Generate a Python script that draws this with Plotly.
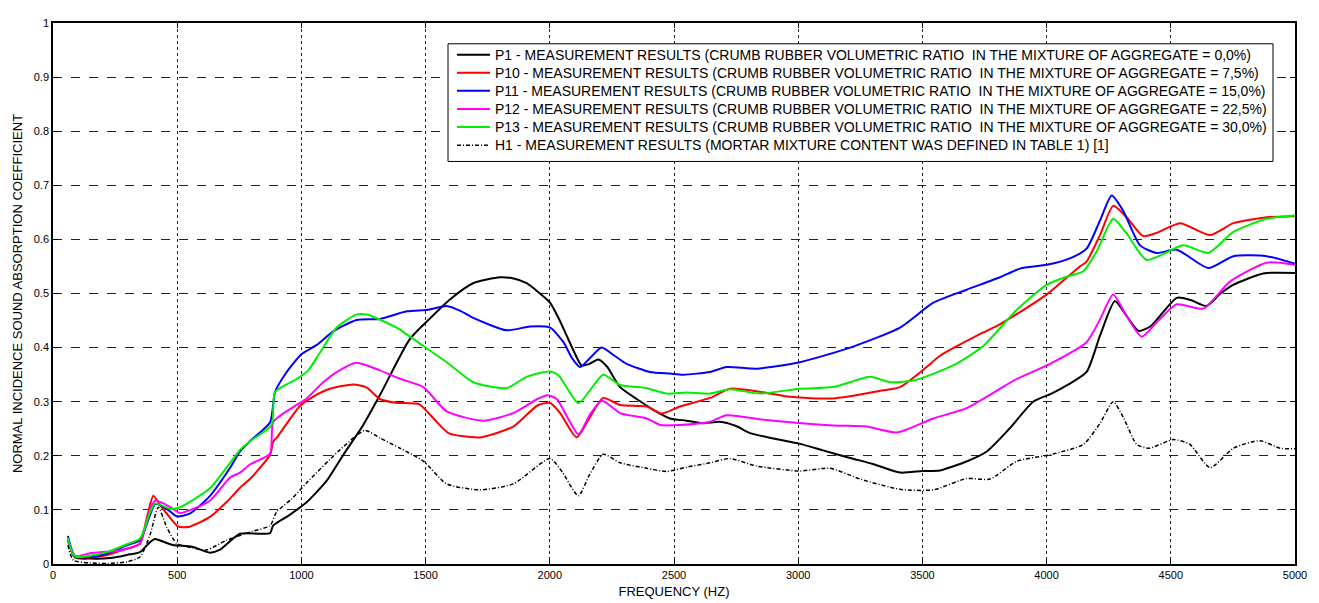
import plotly.graph_objects as go

# ---------------- data ----------------
freq_p1 = [60, 88, 150, 230, 300, 350, 390, 411, 440, 483, 560, 632, 670, 720, 753, 874, 886, 950, 1021, 1102,
           1169, 1249, 1316, 1437, 1520, 1598, 1691, 1800, 1850, 1907, 1960, 2001, 2040, 2068, 2100, 2128, 2160,
           2195, 2230, 2283, 2350, 2417, 2484, 2550, 2618, 2685, 2750, 2806, 2900, 3007, 3100, 3209, 3300, 3410,
           3500, 3571, 3680, 3759, 3850, 3946, 4020, 4081, 4161, 4215, 4275, 4320, 4370, 4420, 4524, 4580, 4644,
           4700, 4751, 4872, 5000]
val_p1 = [0.044, 0.012, 0.010, 0.011, 0.017, 0.022, 0.040, 0.046, 0.042, 0.035, 0.032, 0.021, 0.026, 0.045, 0.056,
          0.057, 0.071, 0.090, 0.114, 0.154, 0.202, 0.257, 0.312, 0.416, 0.455, 0.489, 0.519, 0.530, 0.528, 0.519,
          0.500, 0.483, 0.450, 0.422, 0.390, 0.367, 0.370, 0.378, 0.365, 0.327, 0.305, 0.285, 0.269, 0.265, 0.260,
          0.263, 0.255, 0.242, 0.232, 0.222, 0.210, 0.196, 0.185, 0.169, 0.172, 0.173, 0.190, 0.208, 0.250, 0.300,
          0.315, 0.330, 0.355, 0.422, 0.486, 0.460, 0.431, 0.440, 0.492, 0.488, 0.477, 0.500, 0.516, 0.537, 0.538]

freq_p10 = [60, 88, 150, 216, 280, 323, 350, 380, 404, 430, 458, 505, 550, 632, 700, 753, 793, 874, 887, 900, 994,
            1050, 1115, 1209, 1263, 1316, 1380, 1475, 1530, 1592, 1719, 1853, 1950, 2000, 2040, 2108, 2160, 2215,
            2283, 2390, 2450, 2524, 2645, 2725, 2850, 2967, 3141, 3342, 3410, 3517, 3571, 3745, 3812, 4000, 4134,
            4161, 4215, 4268, 4322, 4389, 4443, 4537, 4658, 4752, 4886, 5000]
val_p10 = [0.045, 0.014, 0.012, 0.016, 0.026, 0.032, 0.037, 0.090, 0.126, 0.110, 0.093, 0.069, 0.069, 0.087, 0.115,
           0.141, 0.157, 0.202, 0.227, 0.233, 0.292, 0.310, 0.324, 0.332, 0.326, 0.305, 0.298, 0.295, 0.270, 0.242,
           0.234, 0.254, 0.293, 0.298, 0.280, 0.234, 0.270, 0.307, 0.294, 0.291, 0.278, 0.291, 0.307, 0.324, 0.318,
           0.309, 0.306, 0.321, 0.327, 0.364, 0.385, 0.428, 0.443, 0.498, 0.550, 0.559, 0.608, 0.662, 0.641, 0.606,
           0.612, 0.630, 0.608, 0.630, 0.641, 0.643]

freq_p11 = [60, 88, 150, 216, 300, 350, 390, 411, 458, 498, 550, 632, 713, 753, 793, 874, 894, 941, 1001, 1062, 1128,
            1222, 1316, 1424, 1510, 1585, 1640, 1692, 1826, 1920, 2001, 2055, 2090, 2122, 2160, 2209, 2260, 2309,
            2403, 2484, 2537, 2645, 2712, 2833, 3007, 3209, 3410, 3544, 3678, 3812, 3893, 4000, 4094, 4161, 4215,
            4262, 4308, 4376, 4443, 4524, 4651, 4752, 4886, 5000]
val_p11 = [0.052, 0.015, 0.013, 0.019, 0.035, 0.044, 0.090, 0.111, 0.102, 0.088, 0.093, 0.126, 0.178, 0.208, 0.227,
           0.262, 0.318, 0.355, 0.388, 0.405, 0.430, 0.451, 0.453, 0.467, 0.470, 0.477, 0.468, 0.455, 0.432, 0.439,
           0.437, 0.410, 0.380, 0.364, 0.380, 0.400, 0.385, 0.370, 0.355, 0.352, 0.350, 0.355, 0.364, 0.361, 0.373,
           0.400, 0.437, 0.483, 0.507, 0.530, 0.546, 0.553, 0.565, 0.583, 0.635, 0.681, 0.653, 0.589, 0.575, 0.581,
           0.547, 0.569, 0.569, 0.555]

freq_p12 = [60, 88, 149, 283, 350, 390, 411, 440, 484, 511, 632, 713, 753, 793, 874, 887, 981, 1021, 1088, 1150, 1222,
            1316, 1400, 1491, 1585, 1732, 1853, 1950, 1990, 2028, 2115, 2160, 2209, 2283, 2390, 2444, 2524, 2645,
            2712, 2873, 3141, 3276, 3397, 3544, 3678, 3880, 4014, 4161, 4215, 4268, 4320, 4383, 4450, 4524, 4631,
            4738, 4886, 5000]
val_p12 = [0.044, 0.014, 0.020, 0.026, 0.038, 0.100, 0.117, 0.113, 0.102, 0.094, 0.117, 0.160, 0.169, 0.184, 0.204,
           0.263, 0.294, 0.306, 0.336, 0.357, 0.372, 0.358, 0.342, 0.327, 0.282, 0.265, 0.279, 0.305, 0.312, 0.305,
           0.240, 0.275, 0.302, 0.279, 0.269, 0.257, 0.257, 0.263, 0.275, 0.266, 0.256, 0.254, 0.243, 0.269, 0.288,
           0.342, 0.370, 0.410, 0.452, 0.498, 0.460, 0.420, 0.450, 0.480, 0.472, 0.522, 0.557, 0.553]

freq_p13 = [60, 88, 216, 300, 350, 390, 411, 440, 471, 511, 632, 713, 753, 793, 880, 894, 981, 1028, 1075, 1142, 1222,
            1263, 1383, 1491, 1585, 1692, 1826, 1907, 2001, 2035, 2115, 2160, 2215, 2283, 2390, 2470, 2551, 2645,
            2725, 2846, 3007, 3141, 3289, 3370, 3463, 3624, 3745, 3880, 4000, 4081, 4148, 4202, 4268, 4322, 4403,
            4550, 4651, 4752, 4886, 5000]
val_p13 = [0.048, 0.014, 0.022, 0.037, 0.047, 0.095, 0.112, 0.108, 0.102, 0.105, 0.140, 0.187, 0.211, 0.227, 0.257,
           0.318, 0.342, 0.358, 0.391, 0.437, 0.461, 0.461, 0.437, 0.403, 0.373, 0.336, 0.325, 0.346, 0.356, 0.349,
           0.297, 0.320, 0.350, 0.331, 0.325, 0.315, 0.317, 0.315, 0.323, 0.315, 0.324, 0.327, 0.346, 0.336, 0.339,
           0.367, 0.403, 0.470, 0.516, 0.531, 0.541, 0.578, 0.638, 0.611, 0.562, 0.589, 0.575, 0.614, 0.638, 0.644]

freq_h1 = [60, 82, 150, 216, 297, 350, 390, 424, 458, 498, 560, 619, 699, 800, 874, 900, 960, 1021, 1155, 1256, 1316,
           1397, 1491, 1585, 1719, 1853, 2001, 2050, 2115, 2160, 2215, 2283, 2390, 2470, 2551, 2645, 2725, 2833,
           3007, 3128, 3249, 3410, 3544, 3678, 3772, 3880, 4014, 4148, 4215, 4268, 4310, 4363, 4414, 4510, 4577,
           4658, 4752, 4859, 4940, 5000]
val_h1 = [0.035, 0.007, 0.002, 0.001, 0.004, 0.013, 0.053, 0.105, 0.068, 0.038, 0.030, 0.026, 0.044, 0.060, 0.071,
          0.096, 0.120, 0.150, 0.211, 0.247, 0.233, 0.214, 0.190, 0.148, 0.137, 0.148, 0.195, 0.170, 0.126, 0.165,
          0.203, 0.187, 0.177, 0.171, 0.179, 0.187, 0.195, 0.181, 0.172, 0.177, 0.157, 0.138, 0.137, 0.158, 0.157,
          0.190, 0.202, 0.221, 0.260, 0.300, 0.270, 0.221, 0.214, 0.230, 0.221, 0.178, 0.214, 0.228, 0.214, 0.213]

names = [
    "P1 - MEASUREMENT RESULTS (CRUMB RUBBER VOLUMETRIC RATIO  IN THE MIXTURE OF AGGREGATE = 0,0%)",
    "P10 - MEASUREMENT RESULTS (CRUMB RUBBER VOLUMETRIC RATIO  IN THE MIXTURE OF AGGREGATE = 7,5%)",
    "P11 - MEASUREMENT RESULTS (CRUMB RUBBER VOLUMETRIC RATIO  IN THE MIXTURE OF AGGREGATE = 15,0%)",
    "P12 - MEASUREMENT RESULTS (CRUMB RUBBER VOLUMETRIC RATIO  IN THE MIXTURE OF AGGREGATE = 22,5%)",
    "P13 - MEASUREMENT RESULTS (CRUMB RUBBER VOLUMETRIC RATIO  IN THE MIXTURE OF AGGREGATE = 30,0%)",
    "H1 - MEASUREMENT RESULTS (MORTAR MIXTURE CONTENT WAS DEFINED IN TABLE 1) [1]",
]

x_ticks = [0, 500, 1000, 1500, 2000, 2500, 3000, 3500, 4000, 4500, 5000]
y_ticks = [0, 0.1, 0.2, 0.3, 0.4, 0.5, 0.6, 0.7, 0.8, 0.9, 1]

# ---------------- styling ----------------
FONT = "Liberation Sans, Arial, sans-serif"
series = [
    (freq_p1, val_p1, "#000000", "solid", 2),
    (freq_p10, val_p10, "#ff0000", "solid", 2),
    (freq_p11, val_p11, "#0000ff", "solid", 2),
    (freq_p12, val_p12, "#ff00ff", "solid", 2),
    (freq_p13, val_p13, "#00ee00", "solid", 2),
    (freq_h1, val_h1, "#000000", "4px,2px,1px,2px", 1.5),
]

fig = go.Figure()
for (fx, fy, col, dash, w), nm in zip(series, names):
    fig.add_trace(go.Scatter(x=fx, y=fy, mode="lines", name=nm, showlegend=False,
                             line=dict(color=col, width=w, dash=dash, shape="spline", smoothing=0.6)))

# ---------------- legend box (drawn in paper coordinates) ----------------
W_FIG, H_FIG = 1319, 603
ML, MR, MT, MB = 45, 32, 9, 47
PW = W_FIG - ML - MR
PH = H_FIG - MT - MB
OFF = 8  # page body margin


def px_x(px):
    return (px - OFF - ML) / PW


def px_y(py):
    return 1 - (py - OFF - MT) / PH


shapes = [dict(type="rect", xref="paper", yref="paper",
               x0=px_x(448), x1=px_x(1273), y0=px_y(157), y1=px_y(38),
               line=dict(color="black", width=1), fillcolor="white", layer="above")]
annotations = []
row0, row_step = 49, 18.3
for i, ((fx, fy, col, dash, w), nm) in enumerate(zip(series, names)):
    yy = px_y(row0 + i * row_step)
    shapes.append(dict(type="line", xref="paper", yref="paper", x0=px_x(457), x1=px_x(490), y0=yy, y1=yy,
                       line=dict(color=col, width=w, dash=dash), layer="above"))
    annotations.append(dict(text=nm, xref="paper", yref="paper", x=px_x(493), y=yy, xanchor="left",
                            yanchor="middle", showarrow=False, font=dict(family=FONT, size=14, color="black")))

axis_common = dict(showline=True, linecolor="black", linewidth=1.5, mirror="allticks",
                   ticks="inside", ticklen=5, tickcolor="black", showgrid=True,
                   gridcolor="#222222", gridwidth=1, zeroline=False,
                   tickfont=dict(family=FONT, size=11, color="black"))

fig.update_layout(
    width=W_FIG, height=H_FIG,
    margin=dict(l=ML, r=MR, t=MT, b=MB),
    paper_bgcolor="white", plot_bgcolor="white",
    font=dict(family=FONT, color="black"),
    xaxis=dict(range=[0, 5000], tickvals=x_ticks, griddash="dot",
               title=dict(text="FREQUENCY (HZ)", font=dict(size=13), standoff=7), **axis_common),
    yaxis=dict(range=[0, 1], tickvals=y_ticks, griddash="dash",
               title=dict(text="NORMAL INCIDENCE SOUND ABSORPTION COEFFICIENT", font=dict(size=13), standoff=8),
               **axis_common),
    shapes=shapes,
    annotations=annotations,
    showlegend=False,
)

fig.write_html("out.html")
